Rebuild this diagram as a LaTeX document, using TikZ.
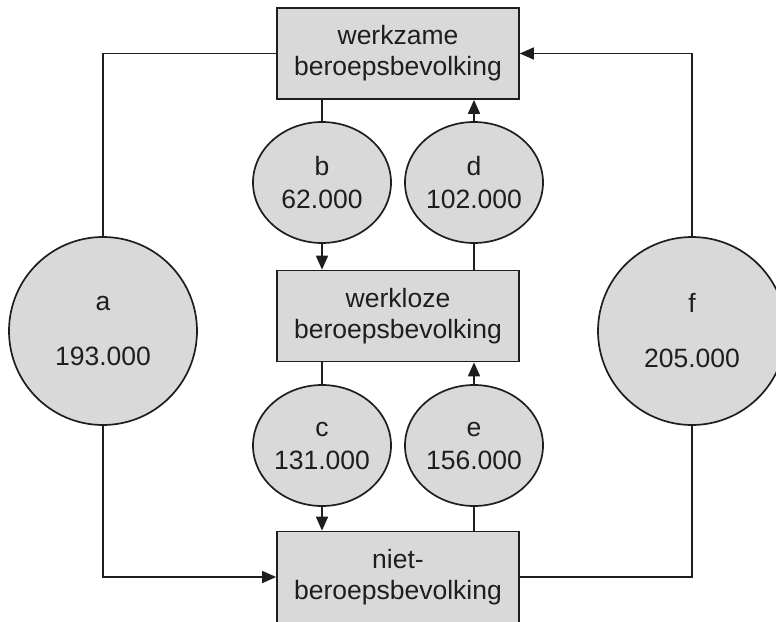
\documentclass[tikz,border=0pt]{standalone}
\usepackage{fontspec}
\setmainfont{Liberation Sans}
\usetikzlibrary{shapes.geometric,arrows.meta}
\definecolor{boxfill}{HTML}{D9D9D9}
\definecolor{ink}{HTML}{1E1E1E}
\tikzset{
  base/.style={draw=ink, fill=boxfill, line width=1.7pt, inner sep=0pt, text=ink},
  stockbox/.style={base, rectangle, minimum width=242pt, minimum height=91pt, align=center, font=\fontsize{26.5}{31}\selectfont},
  flowell/.style={base, ellipse, minimum width=138pt, minimum height=121pt, align=center, font=\fontsize{26.5}{33}\selectfont},
  flowcirc/.style={base, circle, minimum size=188pt, align=center, font=\fontsize{26.5}{33}\selectfont},
  conn/.style={draw=ink, line width=1.7pt},
  arr/.style={conn, -{Triangle[length=14pt,width=12pt]}}
}
\begin{document}
\begin{tikzpicture}[x=1pt,y=-1pt]
\useasboundingbox (0,0) rectangle (776,621);
\node[stockbox] (top) at (398,53.5) {werkzame\\beroepsbevolking};
\node[stockbox] (mid) at (398,316) {werkloze\\beroepsbevolking};
\node[stockbox] (bot) at (398,577) {niet-\\beroepsbevolking};
\node[flowell] (b) at (322,182.5) {b\\62.000};
\node[flowell] (d) at (474,182.5) {d\\102.000};
\node[flowell] (c) at (322,445.5) {c\\131.000};
\node[flowell] (e) at (474,445.5) {e\\156.000};
\node[flowcirc] (a) at (103,331) {a\\[22pt]193.000};
\node[flowcirc] (f) at (692,331) {f\\[22pt]205.000};
% b
\draw[conn] (b.north |- top.south) -- (b.north);
\draw[arr] (b.south) -- (b.south |- mid.north);
% d
\draw[conn] (d.south |- mid.north) -- (d.south);
\draw[arr] (d.north) -- (d.north |- top.south);
% c
\draw[conn] (c.north |- mid.south) -- (c.north);
\draw[arr] (c.south) -- (c.south |- bot.north);
% e
\draw[conn] (e.south |- bot.north) -- (e.south);
\draw[arr] (e.north) -- (e.north |- mid.south);
% a
\draw[conn] (a.north) |- (top.west);
\draw[arr] (a.south) |- (bot.west);
% f
\draw[conn] (bot.east) -| (f.south);
\draw[arr] (f.north) |- (top.east);
\end{tikzpicture}
\end{document}
